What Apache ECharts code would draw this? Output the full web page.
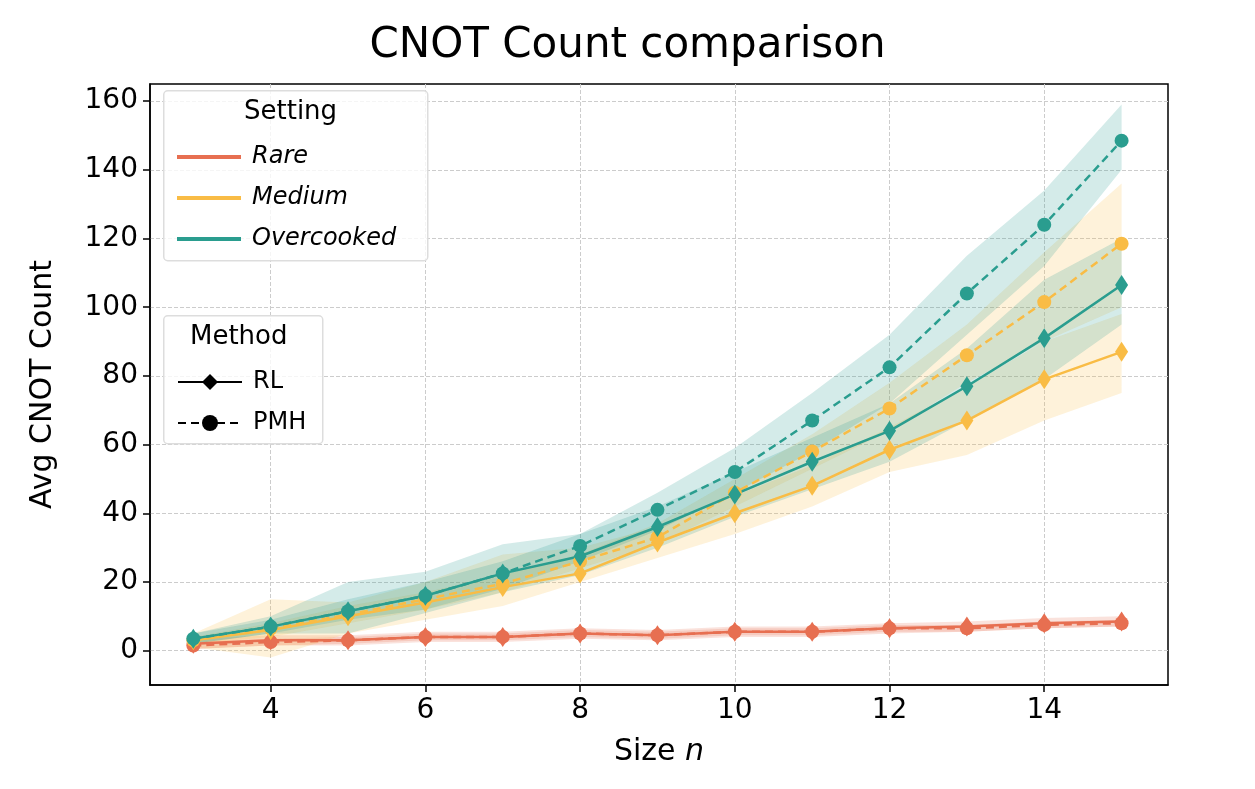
<!DOCTYPE html>
<html>
<head>
<meta charset="utf-8">
<script src="https://cdn.jsdelivr.net/npm/echarts@6/dist/echarts.min.js"></script>
<style>html,body{margin:0;background:#fff}#chart{width:1255px;height:789px}</style>
</head>
<body>
<div id="chart"></div>
<script>
const sizes = [3, 4, 5, 6, 7, 8, 9, 10, 11, 12, 13, 14, 15];
const xTicks = [4, 6, 8, 10, 12, 14];
const yTicks = [0, 20, 40, 60, 80, 100, 120, 140, 160];

const rareRL = [2, 3, 3, 4, 4, 5, 4.5, 5.5, 5.5, 6.5, 7, 8, 8.5];
const rarePMH = [1.5, 2.5, 3, 4, 4, 5, 4.5, 5.5, 5.5, 6.5, 6.5, 7.5, 8];
const mediumRL = [3, 6, 10, 14, 18.5, 22.5, 31.5, 40, 48, 58.5, 67, 79, 87];
const mediumPMH = [3, 6.5, 10.5, 15, 19.5, 26, 33, 46, 58, 70.5, 86, 101.5, 118.5];
const overRL = [3.5, 7, 11.5, 16, 22.5, 27.5, 36, 45.5, 55, 64, 77, 91, 106.5];
const overPMH = [3.5, 7, 11.5, 16, 22.5, 30.5, 41, 52, 67, 82.5, 104, 124, 148.5];

// shaded spread (lower / upper)
const rareRLLo = [0.5, 1.5, 1.5, 2.5, 2.5, 3.5, 3, 4, 4, 5, 5.5, 6.5, 7];
const rareRLHi = [3.5, 4.5, 4.5, 5.5, 5.5, 6.5, 6, 7, 7, 8, 8.5, 9.5, 10];
const rarePMHLo = [0.5, 1.5, 2, 3, 3, 4, 3.5, 4.5, 4.5, 5.5, 5.5, 6.5, 7];
const rarePMHHi = [2.5, 3.5, 4, 5, 5, 6, 5.5, 6.5, 6.5, 7.5, 7.5, 8.5, 9];
const mediumRLLo = [1, -2, 5, 9, 13, 20, 27, 34, 42, 52, 57, 67, 75];
const mediumRLHi = [5, 15, 14, 20, 28, 30, 36, 45, 54, 65, 77, 90, 98];
const mediumPMHLo = [2, 4, 8, 12, 17, 24, 31, 42, 53, 64, 78, 90, 100];
const mediumPMHHi = [4, 8, 13, 17, 22, 28, 37, 50, 63, 78, 95, 116, 136];
const overRLLo = [2, 5, 5, 11, 17, 22, 30, 39, 47, 55, 67, 79, 95];
const overRLHi = [5, 10, 20, 23, 31, 34, 42, 52, 62, 72, 88, 108, 120];
const overPMHLo = [2, 5, 9, 12, 18, 26, 35, 46, 58, 72, 92, 112, 140];
const overPMHHi = [5, 9, 15, 20, 26, 34, 46, 59, 75, 92, 115, 134, 159];

const settings = [
  { name: "Rare", color: "#e76f51", rl: rareRL, pmh: rarePMH, bands: [[rareRLLo, rareRLHi], [rarePMHLo, rarePMHHi]] },
  { name: "Medium", color: "#f9bc45", rl: mediumRL, pmh: mediumPMH, bands: [[mediumRLLo, mediumRLHi], [mediumPMHLo, mediumPMHHi]] },
  { name: "Overcooked", color: "#2a9d8f", rl: overRL, pmh: overPMH, bands: [[overRLLo, overRLHi], [overPMHLo, overPMHHi]] },
];

const pairs = (ys) => sizes.map((x, i) => [x, ys[i]]);

function bandSeries(lo, hi, color) {
  return {
    type: "custom",
    silent: true,
    z: 1,
    data: sizes.map((x, i) => [x, lo[i], hi[i]]),
    renderItem: (params, api) => {
      if (params.dataIndex !== 0) return;
      const top = sizes.map((x, i) => api.coord([x, hi[i]]));
      const bot = sizes.map((x, i) => api.coord([x, lo[i]])).reverse();
      return {
        type: "polygon",
        shape: { points: top.concat(bot) },
        style: { fill: color, opacity: 0.2 },
      };
    },
  };
}

const series = [];
settings.forEach((s) => {
  s.bands.forEach(([lo, hi]) => series.push(bandSeries(lo, hi, s.color)));
});
settings.forEach((s) => {
  series.push({
    name: s.name, type: "line", data: pairs(s.rl), z: 3,
    symbol: "diamond", symbolSize: [13, 20],
    lineStyle: { color: s.color, width: 2.5 }, itemStyle: { color: s.color },
  });
  series.push({
    name: s.name + " PMH", type: "line", data: pairs(s.pmh), z: 3,
    symbol: "circle", symbolSize: 14,
    lineStyle: { color: s.color, width: 2.5, type: [8, 5] }, itemStyle: { color: s.color },
  });
});
series.push({ name: "RL", type: "line", data: [], symbol: "diamond", symbolSize: [13, 20], lineStyle: { color: "#000", width: 2.5 }, itemStyle: { color: "#000" } });
series.push({ name: "PMH", type: "line", data: [], symbol: "circle", symbolSize: 14, lineStyle: { color: "#000", width: 2.5, type: [8, 5] }, itemStyle: { color: "#000" } });

const font = "DejaVu Sans";
const chart = echarts.init(document.getElementById("chart"));
chart.setOption({
  animation: false,
  title: { text: "CNOT Count comparison", left: "center", top: 20, textStyle: { fontFamily: font, fontSize: 42, fontWeight: "normal", color: "#000" } },
  grid: { left: 150, right: 87, top: 84, bottom: 104, show: true, borderColor: "#000", borderWidth: 1.5 },
  xAxis: {
    type: "value", min: 2.44, max: 15.6,
    name: "Size {i|n}", nameLocation: "middle", nameGap: 52,
    nameTextStyle: { fontFamily: font, fontSize: 30, color: "#000", rich: { i: { fontFamily: font, fontSize: 30, fontStyle: "italic", color: "#000" } } },
    axisLine: { onZero: false, lineStyle: { color: "#000", width: 1.5 } },
    axisTick: { show: true, length: 7, customValues: xTicks, lineStyle: { color: "#000", width: 1.5 } },
    axisLabel: { fontFamily: font, fontSize: 28, color: "#000", margin: 12, customValues: xTicks },
    splitLine: { show: true, lineStyle: { type: "dashed", color: "#ccc" } },
  },
  yAxis: {
    type: "value", min: -10, max: 165,
    name: "Avg CNOT Count", nameLocation: "middle", nameGap: 92,
    nameTextStyle: { fontFamily: font, fontSize: 30, color: "#000" },
    axisLine: { show: true, onZero: false, lineStyle: { color: "#000", width: 1.5 } },
    axisTick: { show: true, length: 7, customValues: yTicks, lineStyle: { color: "#000", width: 1.5 } },
    axisLabel: { fontFamily: font, fontSize: 28, color: "#000", margin: 12, customValues: yTicks },
    splitLine: { show: true, lineStyle: { type: "dashed", color: "#ccc" } },
  },
  graphic: [
    { type: "rect", left: 163, top: 90, shape: { width: 264, height: 170, r: 4 }, style: { fill: "rgba(255,255,255,0.8)", stroke: "#ddd", lineWidth: 1.5 }, z: 10 },
    { type: "text", left: 244, top: 99, style: { text: "Setting", font: "26px DejaVu Sans", fill: "#000" }, z: 11 },
    { type: "rect", left: 163, top: 315, shape: { width: 159, height: 128, r: 4 }, style: { fill: "rgba(255,255,255,0.8)", stroke: "#ddd", lineWidth: 1.5 }, z: 10 },
    { type: "text", left: 190, top: 324, style: { text: "Method", font: "26px DejaVu Sans", fill: "#000" }, z: 11 },
  ],
  legend: [
    {
      data: ["Rare", "Medium", "Overcooked"], orient: "vertical", left: 172, top: 140, itemGap: 17,
      icon: "rect", itemWidth: 64, itemHeight: 4, z: 12,
      textStyle: { fontFamily: font, fontSize: 24, fontStyle: "italic", color: "#000", padding: [0, 0, 0, 6] },
    },
    {
      data: ["RL", "PMH"], orient: "vertical", left: 172, top: 365, itemGap: 17,
      itemWidth: 64, itemHeight: 20, z: 12,
      textStyle: { fontFamily: font, fontSize: 24, color: "#000", padding: [0, 0, 0, 6] },
    },
  ],
  series: series,
});
</script>
</body>
</html>
